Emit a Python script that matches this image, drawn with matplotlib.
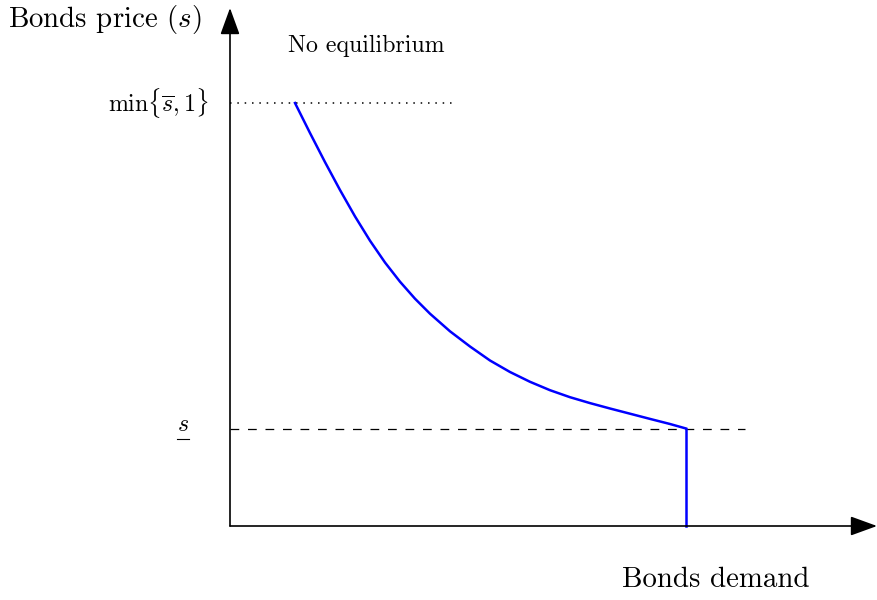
import matplotlib
matplotlib.use("Agg")
import matplotlib.pyplot as plt

plt.rcParams['font.family'] = 'cmr10'
plt.rcParams['mathtext.fontset'] = 'cm'
plt.rcParams['axes.unicode_minus'] = False
plt.rcParams['axes.formatter.use_mathtext'] = True

# demand curve (demand, price)
demand = [0.65, 0.80, 0.95, 1.10, 1.25, 1.40, 1.55, 1.70, 1.85, 2.00,
          2.20, 2.40, 2.60, 2.80, 3.00, 3.20, 3.40, 3.60, 3.80, 4.00,
          4.20, 4.40, 4.56]
price = [4.23, 3.93, 3.639, 3.36, 3.096, 2.853, 2.635, 2.443, 2.273, 2.123,
         1.947, 1.795, 1.655, 1.54, 1.442, 1.358, 1.288, 1.229, 1.175, 1.123,
         1.071, 1.02, 0.975]

s_low = 0.975     # lower bound s
s_high = 4.23     # min{s_bar, 1}
d_max = 4.56      # demand where the curve drops vertically
dotted_end = 2.25
dashed_end = 5.15
x_end = 6.47
y_end = 5.18

fig = plt.figure(figsize=(8.78, 6.0), dpi=100)
ax = fig.add_axes([0, 0, 1, 1])
ax.set_xlim(-2.30, 6.48)
ax.set_ylim(-0.74, 5.26)
ax.axis('off')

# axes with arrows
arrow = dict(arrowstyle='-|>,head_length=0.55,head_width=0.2',
             mutation_scale=30, lw=1.2, color='black', shrinkA=0, shrinkB=0)
ax.annotate('', xy=(x_end, 0), xytext=(0, 0), arrowprops=arrow)
ax.annotate('', xy=(0, y_end), xytext=(0, 0), arrowprops=arrow)

# guide lines
ax.plot([0, dotted_end], [s_high, s_high], color='black', lw=1.1,
        linestyle=(0, (1, 3.8)))
ax.plot([0, dashed_end], [s_low, s_low], color='black', lw=0.9,
        linestyle=(0, (7, 7)))

# demand curve
ax.plot(demand, price, color='blue', lw=1.8, solid_joinstyle='round')
ax.plot([d_max, d_max], [s_low, 0], color='blue', lw=1.8)

# labels
ax.text(-0.28, 5.06, r'Bonds price $(s)$', fontsize=20.8, ha='right', va='center')
ax.text(3.92, -0.54, 'Bonds demand', fontsize=20.8, ha='left', va='center')
ax.text(0.58, 4.80, 'No equilibrium', fontsize=17.2, ha='left', va='center')
ax.text(-0.21, s_high, r'$\min\{\overline{s},1\}$', fontsize=17.2, ha='right', va='center')
low = ax.text(-0.47, s_low + 0.04, r'$s$', fontsize=17.2, ha='center', va='center')

# mathtext has no \underline: draw the bar under the s by hand
fig.canvas.draw()
bb = low.get_window_extent()
fig.add_artist(plt.Line2D([bb.x0 / 878, bb.x1 / 878],
                          [(bb.y0 - 3) / 600, (bb.y0 - 3) / 600],
                          color='black', lw=0.8))

fig.savefig('out.png', dpi=100)
